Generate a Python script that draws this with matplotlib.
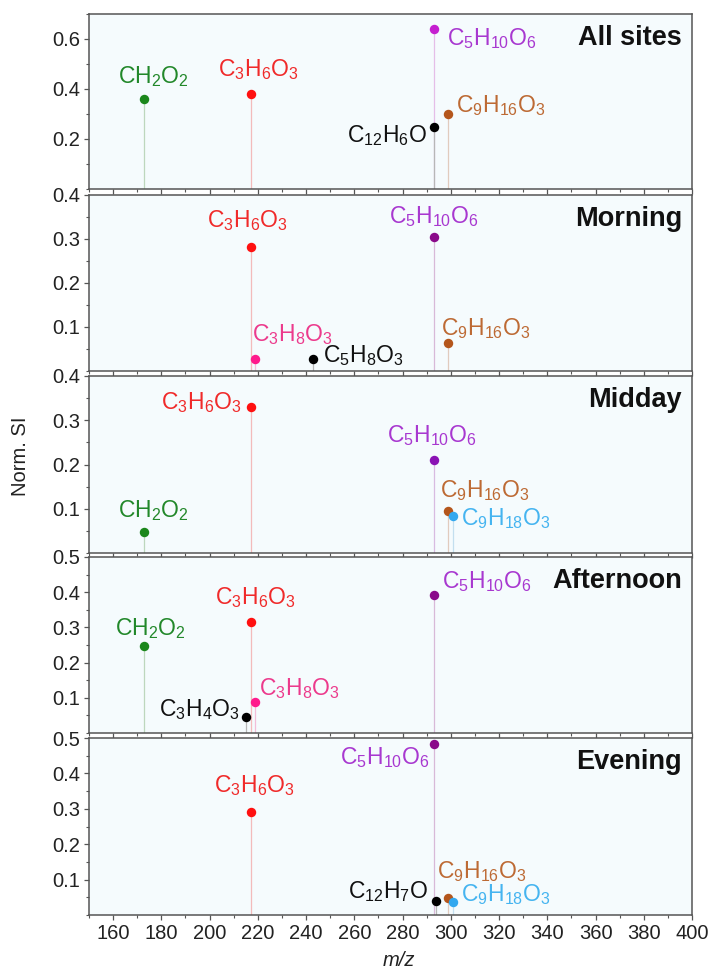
import re
import matplotlib
matplotlib.use("Agg")
import matplotlib.pyplot as plt
from matplotlib.colors import to_rgb
from matplotlib.ticker import MultipleLocator, FixedLocator

plt.rcParams["font.family"] = ["Liberation Sans", "DejaVu Sans"]
plt.rcParams["mathtext.fontset"] = "custom"
plt.rcParams["mathtext.rm"] = "Liberation Sans"
plt.rcParams["mathtext.it"] = "Liberation Sans:italic"
plt.rcParams["mathtext.bf"] = "Liberation Sans:bold"

# ---- data: one list per time-of-day panel ----
panel_titles = ["All sites", "Morning", "Midday", "Afternoon", "Evening"]

all_species = ["CH2O2", "C3H6O3", "C5H10O6", "C12H6O", "C9H16O3"]
all_mz = [173, 217, 293, 293, 299]
all_si = [0.36, 0.38, 0.64, 0.25, 0.30]

morning_species = ["C3H6O3", "C3H8O3", "C5H8O3", "C5H10O6", "C9H16O3"]
morning_mz = [217, 219, 243, 293, 299]
morning_si = [0.281, 0.027, 0.028, 0.304, 0.063]

midday_species = ["CH2O2", "C3H6O3", "C5H10O6", "C9H16O3", "C9H18O3"]
midday_mz = [173, 217, 293, 299, 301]
midday_si = [0.048, 0.330, 0.211, 0.095, 0.084]

afternoon_species = ["CH2O2", "C3H6O3", "C3H8O3", "C3H4O3", "C5H10O6"]
afternoon_mz = [173, 217, 219, 215, 293]
afternoon_si = [0.246, 0.315, 0.089, 0.046, 0.391]

evening_species = ["C3H6O3", "C5H10O6", "C12H7O", "C9H16O3", "C9H18O3"]
evening_mz = [217, 293, 294, 299, 301]
evening_si = [0.292, 0.484, 0.039, 0.047, 0.036]

panels = [
    (all_species, all_mz, all_si),
    (morning_species, morning_mz, morning_si),
    (midday_species, midday_mz, midday_si),
    (afternoon_species, afternoon_mz, afternoon_si),
    (evening_species, evening_mz, evening_si),
]

# ---- styling ----
marker_color = {
    "CH2O2": "#1b871b",
    "C3H6O3": "#ff1010",
    "C5H10O6": "#8a0a8a",
    "C9H16O3": "#b4561c",
    "C9H18O3": "#32a8ef",
    "C3H8O3": "#ff1a8c",
}
label_color = {
    "CH2O2": "#22882a",
    "C3H6O3": "#f02a2a",
    "C5H10O6": "#a838d0",
    "C9H16O3": "#bd6a34",
    "C9H18O3": "#45b4f0",
    "C3H8O3": "#ec3a8c",
}
# first panel draws the C5H10O6 dot in a brighter violet
panel_marker_override = {(0, "C5H10O6"): "#c51fd0", (2, "C5H10O6"): "#8a12b4"}

# label offsets from each dot, in pixels: (dx, dy_baseline, ha)
label_offsets = [
    {"CH2O2": (9, 16, "center"), "C3H6O3": (8, 18, "center"),
     "C5H10O6": (13, -16, "left"), "C12H6O": (-7, -16, "right"),
     "C9H16O3": (8, 2, "left")},
    {"C3H6O3": (-3, 20, "center"), "C3H8O3": (-3, 18, "left"),
     "C5H8O3": (10, -3, "left"), "C5H10O6": (0, 14, "center"),
     "C9H16O3": (-7, 8, "left")},
    {"CH2O2": (9, 15, "center"), "C3H6O3": (-9, -2, "right"),
     "C5H10O6": (-2, 18, "center"), "C9H16O3": (-8, 14, "left"),
     "C9H18O3": (8, -9, "left")},
    {"CH2O2": (6, 11, "center"), "C3H6O3": (5, 18, "center"),
     "C3H8O3": (4, 7, "left"), "C3H4O3": (-6, 1, "right"),
     "C5H10O6": (8, 7, "left")},
    {"C3H6O3": (4, 20, "center"), "C5H10O6": (-4, -20, "right"),
     "C12H7O": (-8, 3, "right"), "C9H16O3": (-11, 20, "left"),
     "C9H18O3": (8, 1, "left")},
]

ylims = [0.7, 0.4, 0.4, 0.5, 0.5]
y_major = [0.2, 0.1, 0.1, 0.1, 0.1]
y_minor = [0.1, 0.05, 0.05, 0.05, 0.05]


def formula(name):
    return r"$\mathregular{" + re.sub(r"(\d+)", r"_{\1}", name) + "}$"


def stem_tint(c, f=0.78):
    # pale, slightly greyed version of the dot colour
    r, g, b = to_rgb(c)
    grey = 0.80
    mix = [(v + grey) / 2 for v in (r, g, b)]
    return tuple(v + (1 - v) * (f - 0.25) for v in mix)


W, H = 709, 968
fig = plt.figure(figsize=(W / 100, H / 100), dpi=100)

left_px, right_px = 89, 692
tops = [14, 194.5, 376, 557, 738]
bottoms = [189, 371, 553, 733, 915]

spine_col = "#555555"
face = "#f5fbfd"
PX2PT = 0.72

for i, (species, mz, si) in enumerate(panels):
    t, b = tops[i], bottoms[i]
    ax = fig.add_axes([left_px / W, 1 - b / H, (right_px - left_px) / W, (b - t) / H])
    ax.set_facecolor(face)
    ax.set_xlim(150, 400)
    ax.set_ylim(0, ylims[i])

    for sp, x, y in zip(species, mz, si):
        mc = panel_marker_override.get((i, sp), marker_color.get(sp, "#000000"))
        lc = label_color.get(sp, "#111111")
        ax.vlines(x, 0, y, colors=[stem_tint(mc)], lw=0.9, zorder=2)
        ax.plot([x], [y], "o", color=mc, ms=6.8, mec="none", zorder=4)
        dx, dy, ha = label_offsets[i][sp]
        ax.annotate(formula(sp), (x, y), xytext=(dx * PX2PT, dy * PX2PT),
                    textcoords="offset points", ha=ha, va="baseline",
                    color=lc, fontsize=16.5, zorder=5)

    ax.annotate(panel_titles[i], (1, 1), xycoords="axes fraction",
                xytext=(-10 * PX2PT, -31 * PX2PT), textcoords="offset points",
                ha="right", va="baseline", fontsize=19.5, fontweight="bold",
                color="#111111")

    # ticks
    ax.xaxis.set_major_locator(MultipleLocator(20))
    ax.xaxis.set_minor_locator(MultipleLocator(10))
    top = ylims[i]
    step = y_major[i]
    n = int(round(top / step))
    majors = [round(step * k, 2) for k in range(1, n + 1)]
    ax.yaxis.set_major_locator(FixedLocator(majors))
    ax.yaxis.set_minor_locator(MultipleLocator(y_minor[i]))
    ax.set_yticklabels([f"{v:.1f}" for v in majors])
    ax.tick_params(axis="both", which="major", direction="out", length=3.6,
                   width=0.9, color=spine_col, labelsize=14.5, pad=3,
                   labelcolor="#222222")
    ax.tick_params(axis="both", which="minor", direction="out", length=2,
                   width=0.8, color=spine_col)
    ax.tick_params(axis="x", labelbottom=(i == len(panels) - 1))
    for s in ax.spines.values():
        s.set_color(spine_col)
        s.set_linewidth(1.1)

fig.text(21 / W, 1 - 456 / H, "Norm. SI", rotation=90, ha="center", va="center",
         fontsize=14.5, color="#222222")
fig.text(399 / W, 1 - 960 / H, "m/z", ha="center", va="center", fontsize=14.5,
         fontstyle="italic", color="#222222")

fig.savefig("out.png", dpi=100, facecolor="white")
